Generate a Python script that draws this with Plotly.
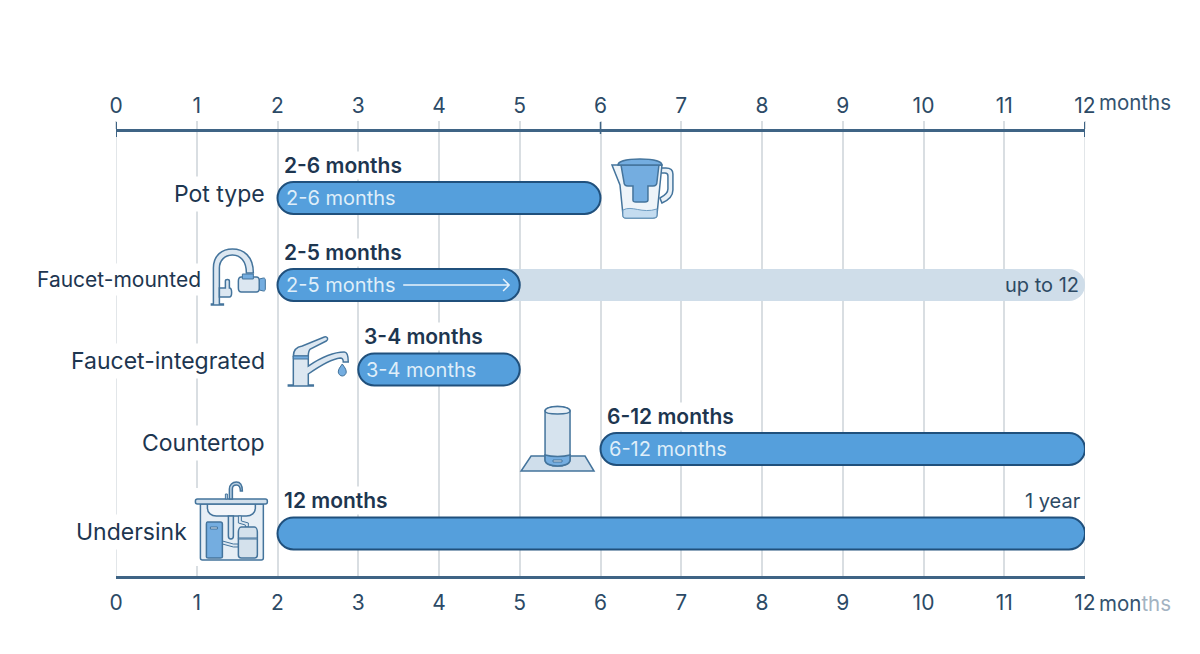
import re
import plotly.graph_objects as go

# Replacement intervals for each household filter type, in months
categories = ["Pot type", "Faucet-mounted", "Faucet-integrated", "Countertop", "Undersink"]
start_months = [2, 2, 3, 6, 2]
end_months = [6, 5, 5, 12, 12]
range_labels = ["2-6 months", "2-5 months", "3-4 months", "6-12 months", "12 months"]
inner_labels = ["2-6 months", "2-5 months", "3-4 months", "6-12 months", ""]
extended_start = [2]
extended_end = [12]
extended_row = ["Faucet-mounted"]
month_ticks = list(range(13))
month_tick_text = [str(m) for m in month_ticks]

# Page geometry (pixels)
W, H = 1200, 654
LEFT, RIGHT, TOP, BOTTOM = 115.5, 1085.5, 132.0, 576.0
ROW_CENTRES = [198, 285, 369.5, 449, 533.5]
BAR_PX = 32

NAVY = "#1d3650"
AXIS = "#3f6485"
GRID = "#d9dee2"
BLUE = "#559fdc"
EDGE = "#20507c"
PALE = "#cfdde9"
STROKE = "#44749c"
ICON_LIGHT = "#dce7f1"
ICON_BLUE = "#74ade0"
FONT = "Inter"


def xp(px):
    return (px - LEFT) / (RIGHT - LEFT)


def yp(px):
    return (BOTTOM - px) / (BOTTOM - TOP)


def to_paper(d):
    """Convert an absolute SVG path written in page pixels to paper coordinates."""
    tokens = re.findall(r"[MLCQZ]|-?\d+\.?\d*", d)
    text, is_x = "", True
    for t in tokens:
        if t in "MLCQZ":
            text += t
            is_x = True
        else:
            v = float(t)
            value = xp(v) if is_x else yp(v)
            text += ("" if text[-1] in "MLCQZ" else " ") + f"{value:.5f}"
            is_x = not is_x
    return text


def icon(d, fill=ICON_LIGHT, line=STROKE, width=1.5):
    return dict(type="path", xref="paper", yref="paper", path=to_paper(d), fillcolor=fill,
                line=dict(color=line, width=width), layer="above")


def cover(x0, y0, x1, y1):
    return dict(type="rect", xref="paper", yref="paper", x0=xp(x0), x1=xp(x1), y0=yp(y0), y1=yp(y1),
                fillcolor="white", line=dict(width=0), layer="above")


def ruler_line(month, y0, y1, color, width, layer="above"):
    return dict(type="line", xref="x", yref="paper", x0=month, x1=month, y0=yp(y0), y1=yp(y1),
                line=dict(color=color, width=width), layer=layer)


shapes = [
    # Gridlines at both ends of the scale
    ruler_line(0, 122, 577, GRID, 1.5, "below"),
    ruler_line(12, 122, 577, GRID, 1.5, "below"),
    # Darker ruler ticks
    ruler_line(0, 122, 137, AXIS, 2),
    ruler_line(6, 122, 134, AXIS, 1.5),
    ruler_line(12, 122, 137, AXIS, 2),

    # White patch that interrupts the gridline behind the sink
    cover(190, 488, 270, 566),

    # Pitcher
    icon("M662 203 C669 200 673 196 673 190 L673 174 C673 170 670 168 666 168 L661 168 L661 173 "
         "L665 173 C667 173 668 174 668 176 L668 189 C668 193 664 196 660 198 Z", "#eaf1f7"),
    icon("M612 165 L662 165 L657 215 C657 217 655 218 653 218 L626 218 C624 218 623 217 623 215 "
         "L620 185 Z", "#eef4f9"),
    icon("M623 210 C632 205 642 214 657 209 L657 215 C657 217 655 218 653 218 L626 218 "
         "C624 218 623 217 623 215 Z", "#c4dcf0", "#6d9cc2", 1),
    icon("M621 165 L659 165 L657 182 C657 185 655 186 653 186 L648 186 L648 200 C648 202 646 202 645 202 "
         "L636 202 C634 202 633 202 633 200 L633 186 L628 186 C625 186 624 185 624 182 Z", ICON_BLUE),
    icon("M618 165 C618 161 628 159 640 159 C652 159 662 161 662 165 Z", ICON_BLUE),

    # Faucet with mounted filter
    icon("M211 304 L213 304 L213 268 C213 255 222 249 232 249 C243 249 253 256 253 273 L246 273 "
         "C246 261 240 255 232 255 C224 255 219 261 219 268 L219 304 L223 304 L223 305 L211 305 Z", ICON_LIGHT),
    icon("M219 288 L225 288 L225 281 C225 279 229 279 229 281 L229 288 C232 288 232 297 229 297 L219 297 Z", ICON_LIGHT),
    icon("M241 277 L256 277 C258 277 259 279 259 281 L259 288 C259 290 258 292 256 292 L241 292 "
         "C239 292 238 290 238 288 L238 281 C238 279 239 277 241 277 Z", ICON_LIGHT),
    icon("M242 274 L253 274 L253 279 L242 279 Z", ICON_BLUE, STROKE, 1),
    icon("M259 279 L263 278 C265 278 265 279 265 281 L265 288 C265 290 265 291 263 291 L259 290 Z", ICON_BLUE, STROKE, 1),

    # Mixer tap with a drop
    icon("M293 357 L308 357 L308 366 C320 358 334 352 344 352 C347 352 348 355 348 362 L343 362 "
         "C343 359 342 358 340 358 C330 359 318 367 308 374 L308 385 L313 385 L313 386 L288 386 L288 385 "
         "L293 385 Z", ICON_LIGHT),
    icon("M293 356 C293 350 296 347 302 346 L324 337 C328 336 328 340 326 341 L310 349 C308 351 308 353 308 356 Z", ICON_LIGHT),
    icon("M293 356 L308 356 L308 359 L293 359 Z", ICON_BLUE, STROKE, 1),
    icon("M342 364 C344 367 346 369 346 372 C346 374 344 376 342 376 C340 376 338 374 338 372 "
         "C338 369 340 367 342 364 Z", ICON_BLUE, STROKE, 1),

    # Countertop cylinder on its plate
    icon("M531 456 L585 456 L594 471 L521 471 Z", "#cfdeeb"),
    icon("M545 411 C545 405 570 405 570 411 L570 460 C570 468 545 468 545 460 Z", "#d6e3ee"),
    icon("M545 411 C545 415 570 415 570 411 C570 405 545 405 545 411 Z", "#eaf1f7"),
    icon("M545 455 C552 457 563 457 570 455 L570 460 C570 468 545 468 545 460 Z", ICON_BLUE),
    icon("M553 460 L562 460 L562 462 L553 462 Z", "#dce7f1", STROKE, 1),

    # Undersink cabinet
    icon("M200 504 L263 504 L263 558 C263 559 262 560 261 560 L202 560 C201 560 200 559 200 558 Z", "#e6eef5"),
    icon("M207 504 L255 504 L255 508 C255 513 251 516 246 516 L216 516 C211 516 207 513 207 508 Z", "#f2f6fa"),
    icon("M228 516 L233 516 L233 536 C233 540 228 540 228 536 Z", ICON_LIGHT),
    icon("M222 544 L233 547 L238 547 L238 544 L233 544 L222 541 Z", ICON_LIGHT, STROKE, 1),
    icon("M238 516 L241 516 L241 521 L248 523 L248 527 L245 527 L245 525 L238 523 Z", ICON_LIGHT, STROKE, 1),
    icon("M207 522 L220 522 C221 522 222 523 222 524 L222 557 C222 558 221 558 220 558 L208 558 "
         "C207 558 206 558 206 557 L206 524 C206 523 206 522 207 522 Z", ICON_BLUE),
    icon("M210 527 L217 527 L217 529 L210 529 Z", "#dce7f1", STROKE, 1),
    icon("M241 527 L254 527 C256 527 257 530 257 532 L257 555 C257 557 256 558 254 558 L241 558 "
         "C239 558 238 557 238 555 L238 532 C238 530 239 527 241 527 Z", "#d4e1ec"),
    icon("M238 538 L257 538 L257 539 L238 539 Z", "#d4e1ec", STROKE, 1),
    icon("M195 501 C195 500 196 499 197 499 L265 499 C266 499 267 500 267 501 L267 502 C267 503 266 504 265 504 "
         "L197 504 C196 504 195 503 195 502 Z", "#d2e0ec"),
    icon("M229 499 L229 489 C229 485 232 482 236 482 C240 482 242 485 242 491 L240 491 C240 487 239 485 236 485 "
         "C233 485 232 487 232 489 L232 499 Z", "#bcd2e4"),
    icon("M225 499 L225 494 L227 494 L227 499 Z", "#bcd2e4", STROKE, 1),

    # Arrow on the faucet-mounted bar
    dict(type="path", xref="paper", yref="paper", layer="above",
         path=to_paper("M403 285 L509 285 M503 279 L509 285 L503 291"),
         line=dict(color="#e8f3fb", width=1.5)),
]

fig = go.Figure()

# Pale extension for the faucet-mounted filter
fig.add_trace(go.Bar(
    x=[e - s for s, e in zip(extended_start, extended_end)], base=extended_start,
    y=[ROW_CENTRES[categories.index(r)] for r in extended_row],
    orientation="h", width=BAR_PX, cliponaxis=False, hoverinfo="skip",
    marker=dict(color=PALE, cornerradius=16, line=dict(width=0)),
))

# Main interval bars
fig.add_trace(go.Bar(
    x=[e - s for s, e in zip(start_months, end_months)], base=start_months, y=ROW_CENTRES,
    orientation="h", width=BAR_PX, cliponaxis=False, hoverinfo="skip",
    marker=dict(color=BLUE, cornerradius=16, line=dict(color=EDGE, width=2)),
))

# Keeps the top ruler attached to the plot
fig.add_trace(go.Scatter(
    x=[0, 12], y=[TOP, TOP], xaxis="x2", yaxis="y", mode="lines", hoverinfo="skip",
    line=dict(color=AXIS, width=0),
))

annotations = []


def note(text, x, y, size, color=NAVY, anchor="left", weight=400, xref="paper", yref="paper",
         xshift=0, yshift=0, bg=None, pad=0):
    annotations.append(dict(
        text=text, x=x, y=y, xref=xref, yref=yref, xanchor=anchor, yanchor="middle", showarrow=False,
        xshift=xshift, yshift=yshift, bgcolor=bg, borderpad=pad,
        font=dict(family=FONT, size=size, color=color, weight=weight),
    ))


# Row names, each with its own right edge and size
row_name_right = [269, 205, 269, 269, 191]
row_name_size = [23, 21, 23, 23, 23]
row_name_lift = [4, 6, 8.5, 6, 1.5]
for name, right, size, lift, centre in zip(categories, row_name_right, row_name_size, row_name_lift, ROW_CENTRES):
    note(name, xp(right), yp(centre - lift), size, anchor="right", bg="white", pad=3)

# Bold interval captions above the bars and lighter ones inside
for label, inner, s, centre in zip(range_labels, inner_labels, start_months, ROW_CENTRES):
    note(label, s, centre, 21, weight=600, xref="x", yref="y", xshift=4, yshift=33, bg="white", pad=1)
    if inner:
        note(inner, s, centre, 20, color="#dfeef9", xref="x", yref="y", xshift=7)

note("up to 12", xp(1080), yp(285), 20, color="#2d4a64", anchor="right")
note("1 year", xp(1082), yp(501), 20, color="#2d4a64", anchor="right")

# The ruler's unit follows the last tick on both sides
note("months", xp(1099), yp(102), 20.5, color="#34536f")
note('mon<span style="color:#a3b3c2">ths</span>', xp(1099), yp(603), 20.5, color="#34536f")

tick_font = dict(family=FONT, size=21, color="#2c4a66")
fig.update_layout(
    width=W, height=H, autosize=False,
    margin=dict(l=LEFT, r=W - RIGHT, t=TOP, b=H - BOTTOM, pad=0),
    paper_bgcolor="white", plot_bgcolor="white",
    barmode="overlay", showlegend=False,
    shapes=shapes, annotations=annotations,
    xaxis=dict(
        range=[0, 12], tickvals=month_ticks, ticktext=month_tick_text, tickfont=tick_font,
        showgrid=True, gridcolor=GRID, gridwidth=1.5, zeroline=False,
        showline=True, linecolor=AXIS, linewidth=2.5, ticks="", ticklabelstandoff=6,
    ),
    xaxis2=dict(
        range=[0, 12], overlaying="x", side="top", anchor="y",
        tickvals=month_ticks, ticktext=month_tick_text, tickfont=tick_font,
        showgrid=False, zeroline=False, showline=True, linecolor=AXIS, linewidth=2.5,
        ticks="outside", ticklen=8, tickwidth=1.5, tickcolor=GRID, ticklabelstandoff=0,
    ),
    yaxis=dict(range=[BOTTOM, TOP], visible=False, fixedrange=True),
)

fig.write_html("out.html", config=dict(displayModeBar=False))
